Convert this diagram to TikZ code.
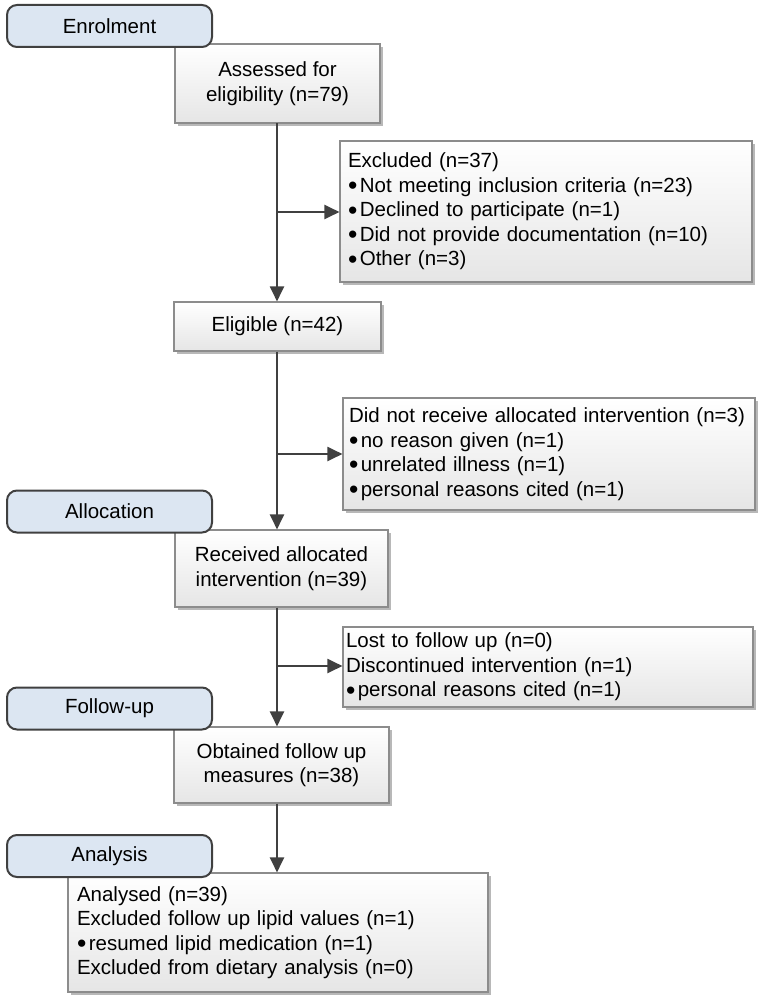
\documentclass[tikz,border=0pt]{standalone}
\usepackage{fontspec}
\setmainfont{Liberation Sans}
\usetikzlibrary{arrows.meta,shadows}
\definecolor{stageblue}{RGB}{220,230,242}
\definecolor{dkgray}{RGB}{64,64,64}
\definecolor{boxgray}{RGB}{140,140,140}
\newcommand{\mainsz}{\fontsize{20.5}{24.5}\selectfont}
\newcommand{\bul}{\raisebox{-2.4pt}[0pt][0pt]{\scalebox{1.3}{\textbullet}}\kern2.5pt}
\tikzset{
  wbox/.style={draw=boxgray, line width=1.1pt, top color=white, bottom color=black!10,
    drop shadow={shadow xshift=3pt, shadow yshift=-3pt, fill=black!28, opacity=1},
    inner sep=0pt, align=center, font=\mainsz},
  lbox/.style={wbox, align=left},
  stage/.style={draw=dkgray, line width=2pt, fill=stageblue, rounded corners=10pt,
    minimum width=205pt, minimum height=42pt, inner sep=0pt, font=\mainsz},
  arr/.style={draw=dkgray, line width=2pt, -{Triangle[length=15pt,width=14pt]}},
}
\begin{document}
\begin{tikzpicture}[x=1pt,y=-1pt]
\useasboundingbox (0,0) rectangle (763,998);
% white boxes
\node[wbox, minimum width=205pt, minimum height=79pt] (assess) at (277.5,83.5) {Assessed for\\eligibility (n=79)};
\node[lbox, text width=396pt, inner xsep=8pt, minimum height=141pt] (excl) at (546,211.5)
  {Excluded (n=37)\\\bul Not meeting inclusion criteria (n=23)\\\bul Declined to participate (n=1)\\\bul Did not provide documentation (n=10)\\\bul Other (n=3)};
\node[wbox, minimum width=207pt, minimum height=49pt] (elig) at (277.5,326.5) {Eligible (n=42)};
\node[lbox, text width=400pt, inner xsep=6pt, minimum height=112pt] (dnr) at (549,454)
  {Did not receive allocated intervention (n=3)\\\bul no reason given (n=1)\\\bul unrelated illness (n=1)\\\bul personal reasons cited (n=1)};
\node[wbox, minimum width=213pt, minimum height=77pt] (recv) at (281.5,568.5) {Received allocated\\intervention (n=39)};
\node[lbox, text width=404pt, inner xsep=3pt, minimum height=80pt] (lost) at (548,667)
  {Lost to follow up (n=0)\\Discontinued intervention (n=1)\\\bul personal reasons cited (n=1)};
\node[wbox, minimum width=215pt, minimum height=76pt] (obt) at (281.5,765) {Obtained follow up\\measures (n=38)};
\node[lbox, text width=402pt, inner xsep=9pt, minimum height=119pt] (anal) at (278,932.5)
  {Analysed (n=39)\\Excluded follow up lipid values (n=1)\\\bul resumed lipid medication (n=1)\\Excluded from dietary analysis (n=0)};
% stage boxes
\node[stage] (enrol) at (109.5,26) {Enrolment};
\node[stage] (alloc) at (109.5,511.5) {Allocation};
\node[stage] (follow) at (109.5,708.5) {Follow-up};
\node[stage] (analysis) at (109.5,856) {Analysis};
% connectors
\coordinate (c1) at (277,123);
\coordinate (b1) at (277,212);
\coordinate (b2) at (277,454);
\coordinate (b3) at (277,666);
\draw[arr] (c1) -- (c1 |- elig.north);
\draw[arr] (b1) -- (b1 -| excl.west);
\draw[arr] (c1 |- elig.south) -- (c1 |- recv.north);
\draw[arr] (b2) -- (b2 -| dnr.west);
\draw[arr] (c1 |- recv.south) -- (c1 |- obt.north);
\draw[arr] (b3) -- (b3 -| lost.west);
\draw[arr] (c1 |- obt.south) -- (c1 |- anal.north);
\end{tikzpicture}
\end{document}
